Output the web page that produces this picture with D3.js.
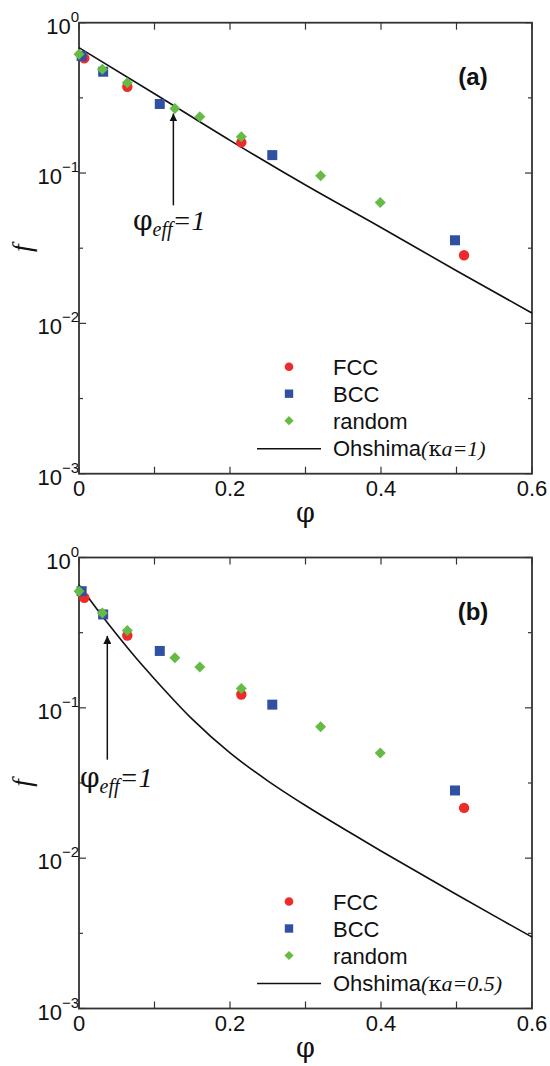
<!DOCTYPE html>
<html><head><meta charset="utf-8">
<script src="https://cdn.jsdelivr.net/npm/d3@7"></script>
<style>body{margin:0;background:#fff}svg{display:block}</style>
</head><body>
<script>
// ---- data ----
const fccPhi = [0.007, 0.064, 0.215, 0.51];
const bccPhi = [0.0035, 0.032, 0.107, 0.256, 0.498];
const rndPhi = [0, 0.031, 0.064, 0.127, 0.16, 0.215, 0.32, 0.399];

const fccA = [0.58, 0.375, 0.160, 0.0284];
const bccA = [0.60, 0.472, 0.288, 0.1316, 0.0357];
const rndA = [0.616, 0.49, 0.398, 0.269, 0.237, 0.174, 0.0958, 0.0637];
const ohshimaPhiA = [0, 0.1, 0.2, 0.3, 0.4, 0.5, 0.6];
const ohshimaA = [0.682, 0.337, 0.165, 0.0832, 0.0434, 0.0224, 0.0117];

const fccB = [0.54, 0.303, 0.1227, 0.0216];
const bccB = [0.597, 0.418, 0.239, 0.105, 0.0282];
const rndB = [0.597, 0.427, 0.327, 0.215, 0.187, 0.1345, 0.0748, 0.0501];
const ohshimaPhiB = [0, 0.032, 0.05, 0.075, 0.1, 0.15, 0.2, 0.25, 0.3, 0.36, 0.4, 0.5, 0.56, 0.6];
const ohshimaB = [0.656, 0.40, 0.307, 0.216, 0.1557, 0.0841, 0.0501, 0.0327, 0.0224, 0.01469, 0.01117, 0.00573, 0.00387, 0.00299];

const xTicks = [0, 0.1, 0.2, 0.3, 0.4, 0.5, 0.6];
const xTickLabels = ["0", "", "0.2", "", "0.4", "", "0.6"];
const yMajor = [1, 0.1, 0.01, 0.001];
const yExp = ["0", "\u22121", "\u22122", "\u22123"];
const yMinor = [Math.pow(10, -0.5), Math.pow(10, -1.5), Math.pow(10, -2.5)];

const panels = [
  {label: "(a)", top: 22.7, fcc: fccA, bcc: bccA, rnd: rndA, lphi: ohshimaPhiA, line: ohshimaA, ka: "1",
   arrow: {x: 0.125, y0: 0.061, y1: 0.249}, txt: {x: 0.0715, y: 0.0416}},
  {label: "(b)", top: 557.5, fcc: fccB, bcc: bccB, rnd: rndB, lphi: ohshimaPhiB, line: ohshimaB, ka: "0.5",
   arrow: {x: 0.0375, y0: 0.0452, y1: 0.301}, txt: {x: 0.0013, y: 0.0299}}
];

const W = 550, H = 1066;
const left = 79, right = 532, ph = 451;
const colors = {fcc: "#ee2a2a", bcc: "#3250a2", rnd: "#66bb44"};
const sans = "'Liberation Sans', Arial, Helvetica, sans-serif";
const serif = "'Liberation Serif', 'Times New Roman', serif";
const symb = "'DejaVu Serif', serif";

const svg = d3.select("body").append("svg").attr("width", W).attr("height", H);

svg.append("defs").append("marker")
  .attr("id", "ah").attr("viewBox", "0 0 10 10").attr("refX", 10).attr("refY", 5)
  .attr("markerWidth", 8).attr("markerHeight", 8).attr("markerUnits", "userSpaceOnUse")
  .attr("orient", "auto")
  .append("path").attr("d", "M0,0 L10,5 L0,10 z").attr("fill", "#111");

const x = d3.scaleLinear().domain([0, 0.6]).range([left, right]);

panels.forEach(p => {
  const top = p.top, bottom = top + ph;
  const y = d3.scaleLog().domain([0.001, 1]).range([bottom, top]);
  const g = svg.append("g");
  const axCol = "#333";

  // ticks
  xTicks.forEach(t => {
    g.append("line").attr("x1", x(t)).attr("x2", x(t)).attr("y1", bottom).attr("y2", bottom - 7)
      .attr("stroke", axCol).attr("stroke-width", 1.2);
    g.append("line").attr("x1", x(t)).attr("x2", x(t)).attr("y1", top).attr("y2", top + 7)
      .attr("stroke", axCol).attr("stroke-width", 1.2);
  });
  xTicks.forEach((t, i) => {
    if (!xTickLabels[i]) return;
    g.append("text").attr("x", x(t)).attr("y", bottom + 22).attr("text-anchor", "middle")
      .attr("font-family", sans).attr("font-size", 22).attr("fill", "#111").text(xTickLabels[i]);
  });
  yMajor.forEach((t, i) => {
    g.append("line").attr("x1", left).attr("x2", left + 7).attr("y1", y(t)).attr("y2", y(t))
      .attr("stroke", axCol).attr("stroke-width", 1.2);
    g.append("line").attr("x1", right).attr("x2", right - 7).attr("y1", y(t)).attr("y2", y(t))
      .attr("stroke", axCol).attr("stroke-width", 1.2);
    const tx = g.append("text").attr("x", 79).attr("y", y(t) + 11).attr("text-anchor", "end")
      .attr("font-family", sans).attr("font-size", 22).attr("fill", "#111");
    tx.append("tspan").text("10");
    tx.append("tspan").attr("dy", -12).attr("font-size", 15).text(yExp[i]);
  });
  yMinor.forEach(t => {
    g.append("line").attr("x1", left).attr("x2", left + 4).attr("y1", y(t)).attr("y2", y(t))
      .attr("stroke", axCol).attr("stroke-width", 1.2);
    g.append("line").attr("x1", right).attr("x2", right - 4).attr("y1", y(t)).attr("y2", y(t))
      .attr("stroke", axCol).attr("stroke-width", 1.2);
  });

  // box
  g.append("rect").attr("x", left).attr("y", top).attr("width", right - left).attr("height", ph)
    .attr("fill", "none").attr("stroke", axCol).attr("stroke-width", 1.8);

  // axis labels
  g.append("text").attr("x", (left + right) / 2).attr("y", bottom + 48).attr("text-anchor", "middle")
    .attr("font-family", symb).attr("font-size", 27).attr("fill", "#111").text("\u03c6");
  g.append("text").attr("transform", `translate(31,${(top + bottom) / 2}) rotate(-90)`)
    .attr("text-anchor", "middle").attr("font-family", serif).attr("font-style", "italic")
    .attr("font-size", 27).attr("fill", "#111").text("f");

  // panel label
  g.append("text").attr("x", 473).attr("y", top + 62).attr("text-anchor", "middle")
    .attr("font-family", sans).attr("font-weight", "bold").attr("font-size", 24).attr("fill", "#111").text(p.label);

  // Ohshima line
  const pts = p.lphi.map((v, i) => [v, p.line[i]]);
  g.append("path").datum(pts)
    .attr("d", d3.line().x(d => x(d[0])).y(d => y(d[1])).curve(d3.curveMonotoneX))
    .attr("fill", "none").attr("stroke", "#111").attr("stroke-width", 1.6);

  // markers
  g.selectAll(".fcc").data(fccPhi.map((v, i) => [v, p.fcc[i]])).enter().append("circle")
    .attr("cx", d => x(d[0])).attr("cy", d => y(d[1])).attr("r", 5.2).attr("fill", colors.fcc);
  g.selectAll(".bcc").data(bccPhi.map((v, i) => [v, p.bcc[i]])).enter().append("rect")
    .attr("x", d => x(d[0]) - 5).attr("y", d => y(d[1]) - 5).attr("width", 10).attr("height", 10)
    .attr("fill", colors.bcc);
  g.selectAll(".rnd").data(rndPhi.map((v, i) => [v, p.rnd[i]])).enter().append("path")
    .attr("transform", d => `translate(${x(d[0])},${y(d[1])})`)
    .attr("d", "M0,-5.5 L5.5,0 L0,5.5 L-5.5,0 Z").attr("fill", colors.rnd);

  // arrow annotation
  g.append("line").attr("x1", x(p.arrow.x)).attr("x2", x(p.arrow.x))
    .attr("y1", y(p.arrow.y0)).attr("y2", y(p.arrow.y1))
    .attr("stroke", "#111").attr("stroke-width", 1.5).attr("marker-end", "url(#ah)");
  const at = g.append("text").attr("x", x(p.txt.x)).attr("y", y(p.txt.y)).attr("fill", "#111");
  at.append("tspan").attr("font-family", symb).attr("font-size", 28).text("\u03c6");
  at.append("tspan").attr("font-family", serif).attr("font-style", "italic").attr("font-size", 20)
    .attr("dy", 6).text("eff");
  at.append("tspan").attr("font-family", serif).attr("font-style", "italic").attr("font-size", 28)
    .attr("dy", -6).text("=1");

  // legend
  const lx = 289, ltx = 333, ly0 = top + 344, dy = 27;
  const lg = g.append("g");
  lg.append("circle").attr("cx", lx).attr("cy", ly0).attr("r", 4.3).attr("fill", colors.fcc);
  lg.append("rect").attr("x", lx - 4.2).attr("y", ly0 + dy - 4.2).attr("width", 8.4).attr("height", 8.4).attr("fill", colors.bcc);
  lg.append("path").attr("transform", `translate(${lx},${ly0 + 2 * dy})`).attr("d", "M0,-4.6 L4.6,0 L0,4.6 L-4.6,0 Z").attr("fill", colors.rnd);
  lg.append("line").attr("x1", 257).attr("x2", 321).attr("y1", ly0 + 3 * dy + 1).attr("y2", ly0 + 3 * dy + 1)
    .attr("stroke", "#111").attr("stroke-width", 1.4);
  ["FCC", "BCC", "random"].forEach((s, i) => {
    lg.append("text").attr("x", ltx).attr("y", ly0 + i * dy + 8).attr("font-family", sans).attr("font-size", 22)
      .attr("fill", "#111").text(s);
  });
  const ot = lg.append("text").attr("x", ltx).attr("y", ly0 + 3 * dy + 8).attr("font-size", 22).attr("fill", "#111");
  ot.append("tspan").attr("font-family", sans).text("Ohshima");
  ot.append("tspan").attr("font-family", serif).attr("font-style", "italic").attr("font-size", 22).text("(");
  ot.append("tspan").attr("font-family", symb).attr("font-size", 21).text("\u03ba");
  ot.append("tspan").attr("font-family", serif).attr("font-style", "italic").attr("font-size", 22).text("a=" + p.ka + ")");
});
</script>
</body></html>
